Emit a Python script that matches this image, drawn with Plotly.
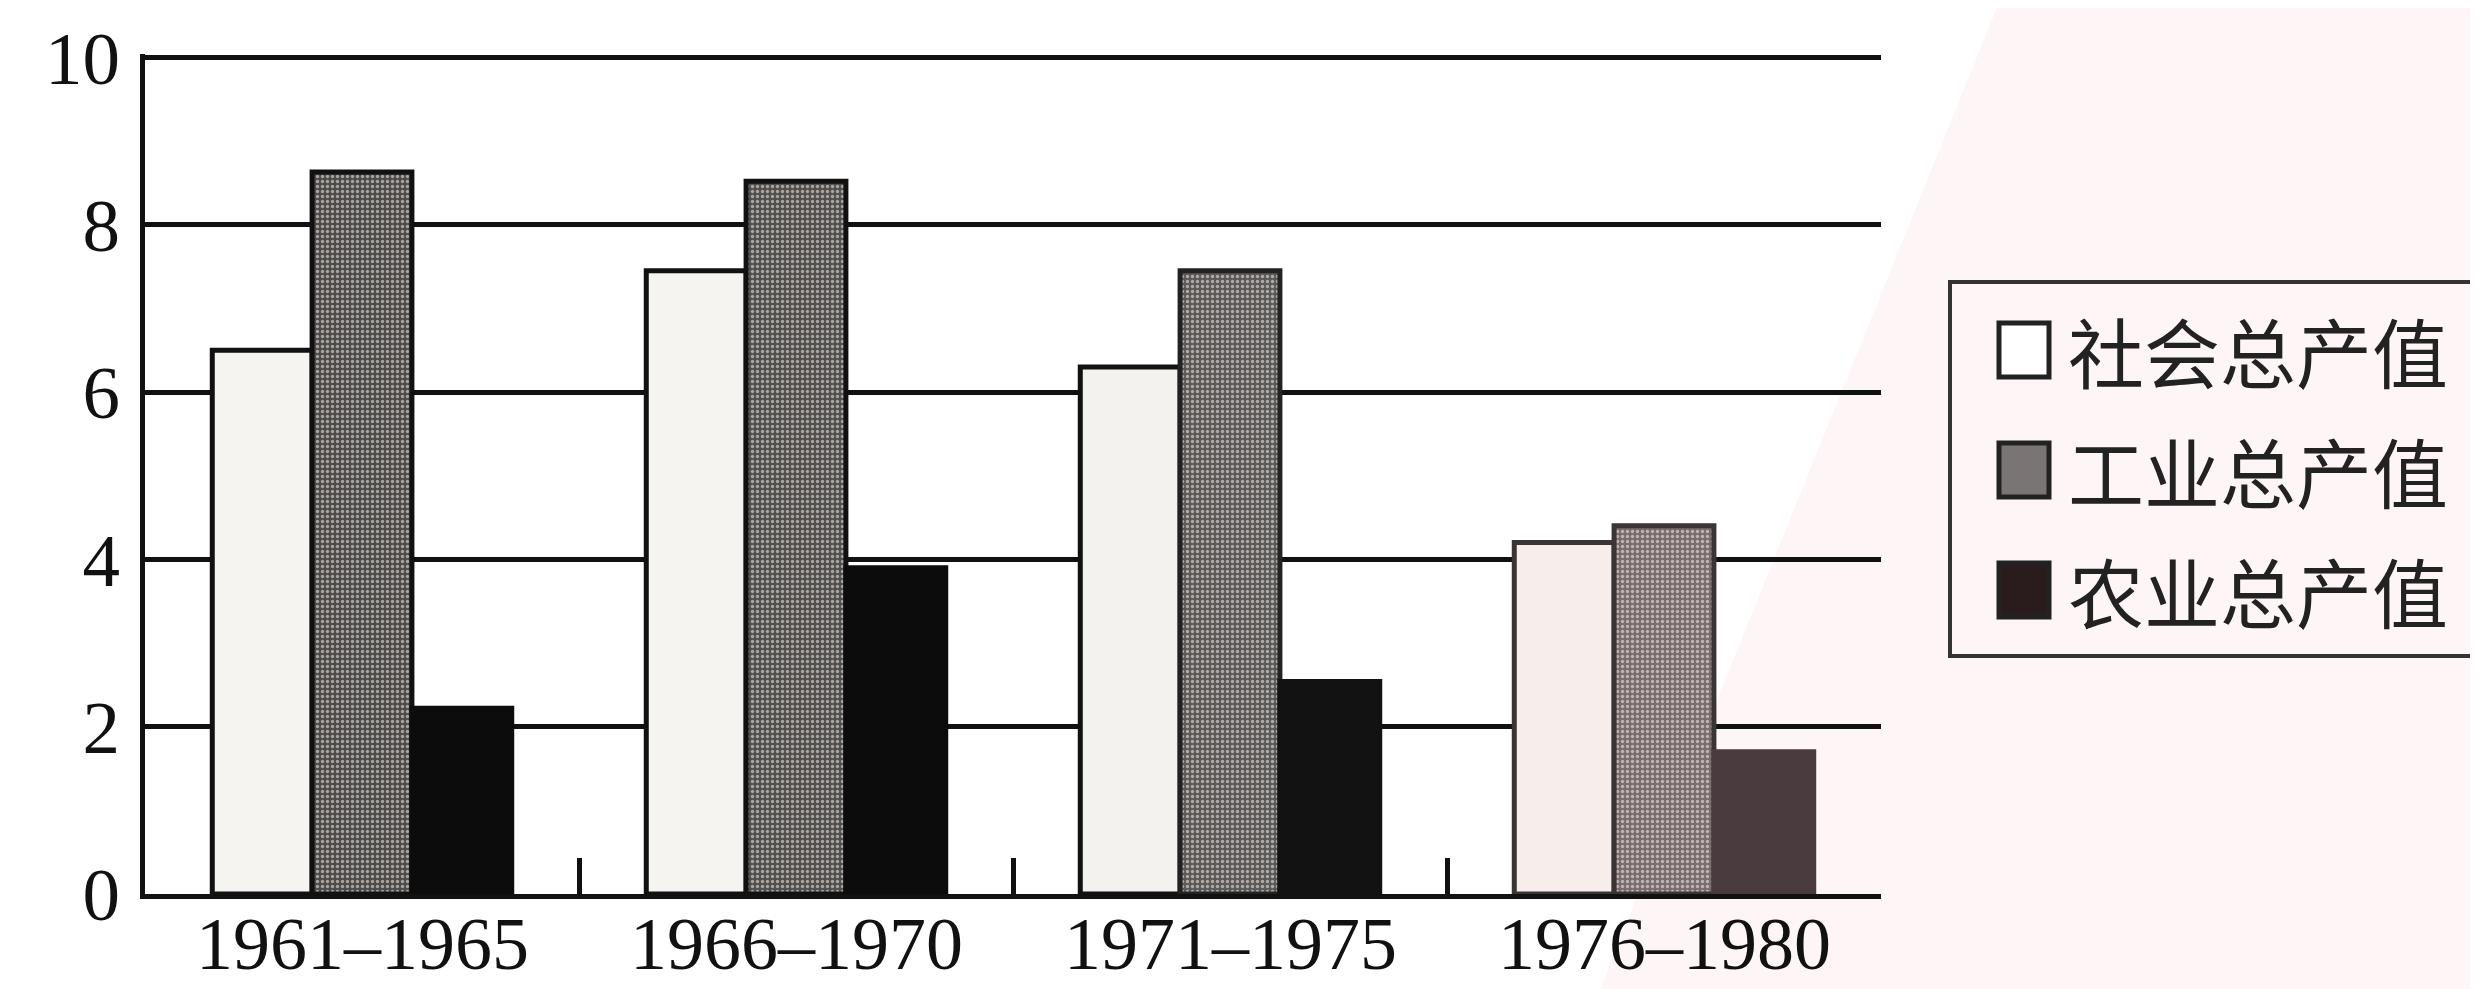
import plotly.graph_objects as go

categories = ["1961–1965", "1966–1970", "1971–1975", "1976–1980"]
series_names = ["社会总产值", "工业总产值", "农业总产值"]
social_total = [6.5, 7.45, 6.3, 4.2]
industry_total = [8.63, 8.52, 7.45, 4.4]
agriculture_total = [2.22, 3.9, 2.54, 1.7]
y_ticks = [0, 2, 4, 6, 8, 10]

# page body has an 8px margin, so the figure is slightly smaller than the window
OFF = 8
W, H = 2478 - OFF, 989 - OFF
L = 145 - OFF
plot_right = 1881 - OFF
T = 54 - OFF
plot_bottom = 894 - OFF
R, B = W - plot_right, H - plot_bottom
pw, ph = W - L - R, H - T - B

values = [social_total, industry_total, agriculture_total]
bar_colors = [
    ["#f6f4f0", "#f6f4f0", "#f4f2ee", "#f7eeec"],
    ["#4e4a48", "#524e4c", "#5c5856", "#7a6c6c"],
    ["#0c0c0c", "#0c0c0c", "#121212", "#4a3c3e"],
]
line_colors = [
    ["#111", "#111", "#111", "#3a3434"],
    ["#111", "#111", "#222", "#3a3434"],
    ["#0c0c0c", "#0c0c0c", "#121212", "#4a3c3e"],
]
patterns = [dict(shape=""),
            dict(shape=".", fgcolor="#2a2626", size=5, solidity=0.35),
            dict(shape="")]

fig = go.Figure()
for name, vals, col, lc, pat in zip(series_names, values, bar_colors, line_colors, patterns):
    fig.add_trace(go.Bar(
        x=categories, y=vals, name=name, showlegend=False,
        marker=dict(color=col, line=dict(color=lc, width=5), pattern=pat),
    ))

serif = "Liberation Serif, Times New Roman, serif"
fig.update_layout(
    width=W, height=H,
    margin=dict(l=L, r=R, t=T, b=B, pad=0),
    paper_bgcolor="white", plot_bgcolor="white",
    barmode="group", bargap=0.31, bargroupgap=0,
    font=dict(family=serif, size=75, color="#111"),
    xaxis=dict(
        automargin=False,
        showgrid=False, showline=True, linecolor="#111", linewidth=5,
        ticks="inside", tickson="boundaries", ticklen=36, tickwidth=5, tickcolor="#111",
        showticklabels=False,
    ),
    yaxis=dict(
        automargin=False,
        range=[0, 10.04], tickvals=y_ticks, showgrid=True, gridcolor="#111", gridwidth=5,
        showline=True, linecolor="#111", linewidth=5, ticks="", zeroline=False,
        ticklabelstandoff=5, tickfont=dict(family=serif, size=75, color="#111"),
    ),
)

# category labels under the axis
for c in categories:
    fig.add_annotation(x=c, xref="x", y=0, yref="paper", yanchor="middle", yshift=-50,
                       showarrow=False, text=c, borderpad=0,
                       font=dict(family=serif, size=74, color="#111"))

def px_x(px):
    return (px - OFF - L) / pw

def px_y(py):
    return (plot_bottom - (py - OFF)) / ph

# faint watermark tint in the background (right side)
shapes = [dict(type="path", xref="paper", yref="paper", layer="below",
               path="M {} {} L {} {} L {} {} L {} {} Z".format(
                   px_x(2000), px_y(0), px_x(2478), px_y(0),
                   px_x(2478), px_y(989), px_x(1600), px_y(989)),
               fillcolor="rgba(250,220,220,0.25)", line=dict(width=0))]

# custom legend (box, swatches, labels)
shapes.append(dict(type="rect", xref="paper", yref="paper",
                   x0=px_x(1950), x1=px_x(2500), y0=px_y(656), y1=px_y(282),
                   line=dict(color="#333", width=4), fillcolor="rgba(0,0,0,0)", layer="above"))
row_y = [350, 470, 590]
swatch_fill = ["#ffffff", "#7a7474", "#2a1c1c"]
for i, name in enumerate(series_names):
    cy = row_y[i]
    shapes.append(dict(type="rect", xref="paper", yref="paper",
                       x0=px_x(1999), x1=px_x(2049), y0=px_y(cy + 27), y1=px_y(cy - 27),
                       line=dict(color="#222", width=5), fillcolor=swatch_fill[i]))
    fig.add_annotation(xref="paper", yref="paper", x=px_x(2066), y=px_y(cy),
                       xanchor="left", yanchor="middle", showarrow=False, text=name,
                       font=dict(family="Noto Sans CJK SC", size=76, color="#222"))
fig.update_layout(shapes=shapes)

fig.write_html("out.html")
